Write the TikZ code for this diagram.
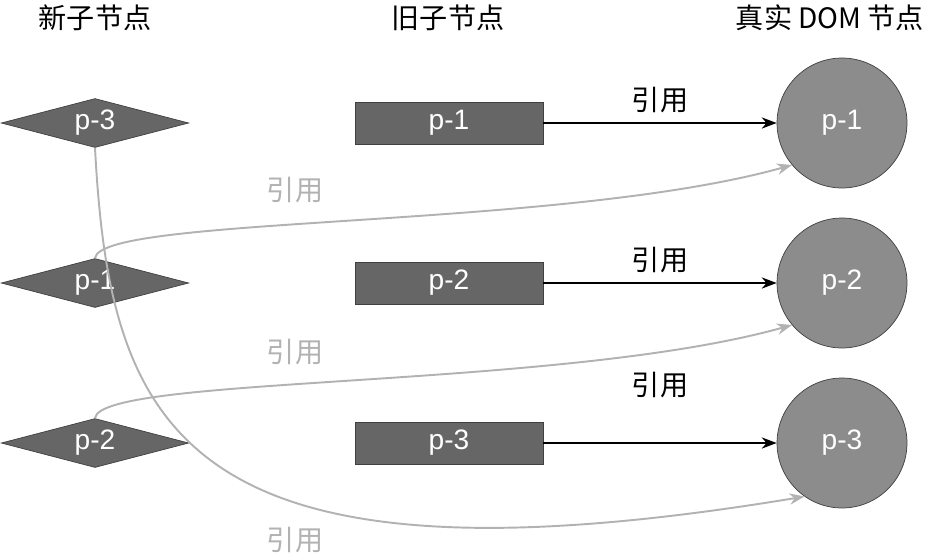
\documentclass[tikz,border=0pt]{standalone}
\usepackage{fontspec}
\setmainfont{Liberation Sans}
\newfontfamily\cjk{Noto Sans CJK SC}
\usetikzlibrary{shapes.geometric,arrows.meta}
\tikzset{
  newnode/.style={diamond, aspect=4, minimum width=3.75cm, minimum height=0.98cm, inner sep=0pt, fill=black!60, draw=black!75, text=white, font=\fontsize{16}{16}\selectfont},
  oldnode/.style={rectangle, minimum width=3.76cm, minimum height=0.84cm, fill=black!60, draw=black!75, text=white, font=\fontsize{16}{16}\selectfont},
  domnode/.style={circle, minimum size=2.6cm, fill=black!45, draw=black!75, text=white, font=\fontsize{16}{16}\selectfont},
  head/.style={font=\cjk\fontsize{16}{16}\selectfont},
  reflabel/.style={font=\cjk\fontsize{16}{16}\selectfont},
  ref/.style={-{Stealth[length=3mm]}, thick},
  oldref/.style={-{Stealth[length=3mm]}, line width=1.1pt, black!30}
}
\begin{document}
\begin{tikzpicture}[x=0.02cm, y=-0.02cm]
\useasboundingbox (0,0) rectangle (942,556);

% Headers
\node[head] (h-new) at (95,18) {新子节点};
\node[head] (h-old) at (448,18) {旧子节点};
\node[head] (h-dom) at (830,18) {真实 DOM 节点};

% New children
\node[newnode] (New-3) at (95,123) {p-3};
\node[newnode] (New-1) at (95,283) {p-1};
\node[newnode] (New-2) at (95,443) {p-2};

% Old children and real DOM
\foreach \i/\y in {1/123, 2/283, 3/443}
{
    \node[oldnode] (Old-\i) at (449,\y) {p-\i};
    \node[domnode] (Dom-\i) at (842,\y) {p-\i};
    \draw[ref] (Old-\i) -- (Dom-\i);
}
\node[reflabel] at (660,100) {引用};
\node[reflabel] at (660,260) {引用};
\node[reflabel] at (660,385) {引用};

% References from new children
\draw[oldref] (New-1.north) .. controls (100,215) and (560,230) .. (Dom-1.220);
\draw[oldref] (New-2.north) .. controls (100,375) and (560,390) .. (Dom-2.220);
\draw[oldref] (New-3.south) .. controls (110,430) and (180,600) .. (Dom-3.235);
\node[reflabel, black!30] at (295,190) {引用};
\node[reflabel, black!30] at (295,352) {引用};
\node[reflabel, black!30] at (295,540) {引用};
\end{tikzpicture}
\end{document}
